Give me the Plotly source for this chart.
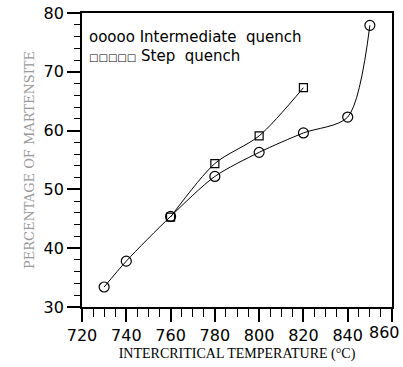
import plotly.graph_objects as go

temp_iq = [730, 740, 760, 780, 800, 820, 840, 850]
mart_iq = [33.4, 37.8, 45.4, 52.2, 56.3, 59.6, 62.3, 77.9]
temp_sq = [760, 780, 800, 820]
mart_sq = [45.3, 54.4, 59.1, 67.3]
x_ticks = [720, 740, 760, 780, 800, 820, 840, 860]
x_ticklabels = ["720", "740", "760", "780", "800", "820", "840", ""]

fig = go.Figure()
fig.add_trace(go.Scatter(x=temp_iq, y=mart_iq, mode="lines+markers",
                         line=dict(color="black", width=1, shape="spline", smoothing=0.8),
                         marker=dict(symbol="circle-open", size=10, color="black", line=dict(width=1.2)),
                         showlegend=False))
fig.add_trace(go.Scatter(x=temp_sq, y=mart_sq, mode="lines+markers",
                         line=dict(color="black", width=1, shape="spline", smoothing=0.8),
                         marker=dict(symbol="square-open", size=8, color="black", line=dict(width=1.2)),
                         showlegend=False))

fig.add_annotation(x=0.015, y=0.918, xref="paper", yref="paper", xanchor="left", yanchor="middle",
                   text="ooooo Intermediate  quench", showarrow=False,
                   font=dict(family="DejaVu Sans", size=15, color="black"))
fig.add_annotation(x=0.015, y=0.855, xref="paper", yref="paper", xanchor="left", yanchor="middle",
                   text="<span style='font-size:10px'>□□□□□</span> Step  quench", showarrow=False,
                   font=dict(family="DejaVu Sans", size=15, color="black"))
# last tick label, kept inside the page
fig.add_annotation(x=1, y=0, xref="paper", yref="paper", xanchor="right", yanchor="top",
                   xshift=10, yshift=-14, text="860", showarrow=False,
                   font=dict(family="DejaVu Sans", size=16, color="black"))

fig.update_xaxes(range=[720, 860], tickvals=x_ticks, ticktext=x_ticklabels, ticks="outside",
                 ticklen=13, tickwidth=1.5,
                 tickcolor="black", showline=True, linecolor="black", linewidth=1.8, mirror=True,
                 showgrid=False, zeroline=False, automargin=False,
                 minor=dict(dtick=5, tick0=720, ticks="outside", ticklen=8, tickwidth=1.2, tickcolor="black"),
                 tickfont=dict(family="DejaVu Sans", size=16, color="black"),
                 title=dict(text="INTERCRITICAL TEMPERATURE (°C)", standoff=4,
                            font=dict(family="Liberation Serif", size=14, color="black")))
fig.update_yaxes(range=[30, 80], dtick=10, ticks="outside", ticklen=13, tickwidth=1.5,
                 tickcolor="black", showline=True, linecolor="black", linewidth=1.8, mirror=True,
                 showgrid=False, zeroline=False, automargin=False,
                 minor=dict(dtick=2, ticks="outside", ticklen=6, tickwidth=1.2, tickcolor="black"),
                 tickfont=dict(family="DejaVu Sans", size=16, color="black"),
                 title=dict(text="PERCENTAGE OF MARTENSITE", standoff=6,
                            font=dict(family="DejaVu Serif", size=13, color="#9a9a9a")))

fig.update_layout(width=403, height=367, margin=dict(l=82, r=11, t=13, b=60),
                  plot_bgcolor="white", paper_bgcolor="white")
fig.write_html("out.html")
